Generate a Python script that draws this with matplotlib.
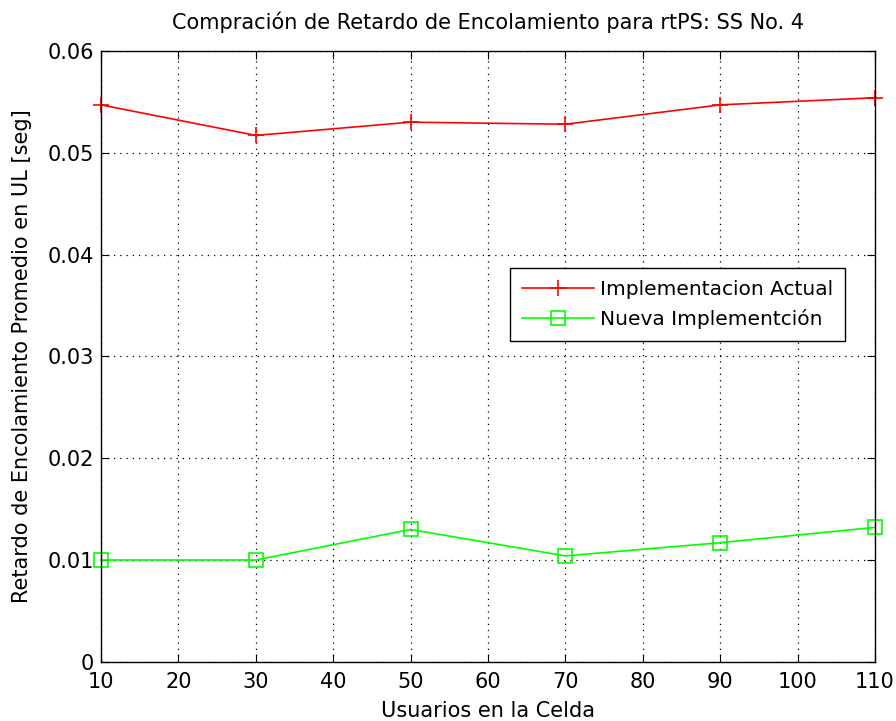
import matplotlib
matplotlib.use("Agg")
import matplotlib.pyplot as plt

plt.rcParams['font.family'] = ['DejaVu Sans']

usuarios = [10, 30, 50, 70, 90, 110]
actual = [0.0547, 0.0517, 0.0530, 0.0528, 0.0547, 0.0554]
nueva = [0.0100, 0.0100, 0.0130, 0.0104, 0.0117, 0.0132]
xticks = [10, 20, 30, 40, 50, 60, 70, 80, 90, 100, 110]
yticks = [0, 0.01, 0.02, 0.03, 0.04, 0.05, 0.06]

fig = plt.figure(figsize=(8.96, 7.21), dpi=100)
ax = fig.add_axes([0.1127, 0.0821, 0.8638, 0.8473])
ax.plot(usuarios, actual, color='#ff0000', marker='+', markersize=12, markeredgewidth=1.2,
        linewidth=1.2, label='Implementacion Actual', clip_on=False)
ax.plot(usuarios, nueva, color='#00ff00', marker='s', markersize=10.5, markerfacecolor='none',
        markeredgewidth=1.2, linewidth=1.2, label='Nueva Implementción', clip_on=False)
ax.set_xlim(10, 110)
ax.set_ylim(0, 0.06)
ax.set_xticks(xticks)
ax.set_yticks(yticks)
ax.set_yticklabels(['0', '0.01', '0.02', '0.03', '0.04', '0.05', '0.06'])
ax.tick_params(direction='in', labelsize=15, length=6, top=True, right=True)
ax.tick_params(axis='x', pad=7)
ax.tick_params(axis='y', pad=5)
ax.grid(True, color='black', linestyle=(0, (1, 4)), linewidth=0.9)
for s in ax.spines.values():
    s.set_linewidth(1.0)
ax.set_title('Compración de Retardo de Encolamiento para rtPS: SS No. 4', fontsize=15, pad=16)
ax.set_xlabel('Usuarios en la Celda', fontsize=15, labelpad=7)
ax.set_ylabel('Retardo de Encolamiento Promedio en UL [seg]', fontsize=15, labelpad=11)
leg = ax.legend(loc='upper left', bbox_to_anchor=(0.528, 0.6445), fontsize=14.5, fancybox=False,
                edgecolor='black', framealpha=1, handlelength=3.6, handletextpad=0.3,
                borderpad=0.6, labelspacing=0.5, borderaxespad=0)
leg.get_frame().set_linewidth(1.0)
fig.savefig('out.png', dpi=100)
